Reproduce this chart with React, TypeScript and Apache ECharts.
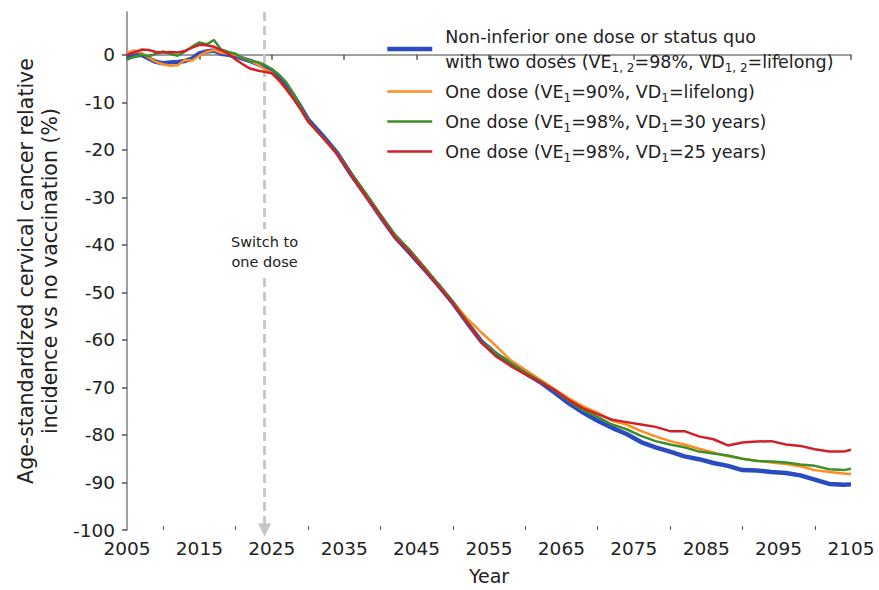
import React, { useEffect, useRef } from 'react';
import * as echarts from 'echarts';

const years = [
  2005, 2006, 2007, 2008, 2009, 2010, 2011, 2012, 2013, 2014, 2015, 2016, 2017, 2018, 2019,
  2020, 2021, 2022, 2023, 2024, 2025, 2026, 2027, 2028, 2029, 2030,
  2032, 2034, 2036, 2038, 2040, 2042, 2044, 2046, 2048, 2050, 2052, 2054, 2056, 2058,
  2060, 2062, 2064, 2066, 2068, 2070, 2072, 2074, 2076, 2078, 2080, 2082, 2084, 2086,
  2088, 2090, 2092, 2094, 2096, 2098, 2100, 2102, 2104, 2105,
];

const twoDoses = [
  -0.6, -0.2, 0.0, -0.8, -1.5, -1.8, -1.6, -1.5, -1.3, -0.8, 0.3, 0.7, 0.9, 0.2, 0.0,
  -0.3, -0.8, -1.3, -1.9, -2.6, -3.3, -4.8, -6.4, -8.6, -11.0, -13.6,
  -17.0, -20.6, -25.3, -29.6, -34.0, -38.3, -41.6, -45.0, -48.5, -52.2, -56.4, -60.4, -63.0, -65.0,
  -67.0, -68.8, -71.0, -73.3, -75.3, -77.0, -78.5, -79.8, -81.5, -82.6, -83.5, -84.5, -85.1, -85.9,
  -86.5, -87.4, -87.5, -87.8, -88.0, -88.5, -89.4, -90.3, -90.5, -90.4,
];

const oneDose90Lifelong = [
  0.4, 0.9, 0.4, -0.6, -1.5, -2.0, -2.3, -2.2, -1.1, -1.2, -0.2, 0.6, 1.0, 0.4, 0.2,
  0.0, -0.7, -1.3, -2.0, -3.0, -3.8, -5.5, -7.3, -9.2, -11.4, -14.0,
  -17.3, -20.8, -25.2, -29.8, -34.0, -38.2, -41.0, -44.5, -48.3, -52.0, -55.5, -58.5, -61.3, -64.3,
  -66.3, -68.3, -70.3, -72.3, -74.0, -75.3, -77.0, -77.8, -79.2, -80.3, -81.3, -82.0, -82.9, -83.7,
  -84.5, -85.0, -85.4, -85.8, -86.1, -86.6, -87.4, -87.8, -88.1, -88.2,
];

const oneDose98Vd30 = [
  -1.0, -0.4, 0.0, -0.3, 0.2, 0.7, 0.2, -0.2, 0.7, 1.7, 2.6, 2.2, 3.1, 1.1, 0.6,
  0.2, -0.8, -1.4, -1.5, -2.1, -3.0, -4.2, -5.8, -8.2, -11.0, -13.8,
  -17.4, -20.6, -25.0, -29.2, -33.6, -37.8, -41.0, -44.6, -48.3, -52.0, -56.2, -60.4, -62.8, -64.8,
  -66.8, -68.6, -70.5, -72.8, -74.8, -76.2, -77.8, -78.8, -80.2, -81.3, -82.0, -82.6, -83.5, -83.9,
  -84.3, -85.0, -85.5, -85.6, -85.8, -86.2, -86.5, -87.2, -87.4, -87.1,
];

const oneDose98Vd25 = [
  0.0, 0.5, 1.1, 1.0, 0.6, 0.5, 0.6, 0.5, 0.8, 1.5, 2.1, 2.0, 1.7, 1.0, 0.2,
  -1.0, -2.0, -2.9, -3.3, -3.6, -3.9, -5.3, -7.2, -9.3, -11.5, -14.0,
  -17.3, -20.8, -25.3, -29.8, -34.0, -38.4, -41.5, -45.0, -48.6, -52.3, -56.4, -60.6, -63.5, -65.5,
  -67.2, -68.8, -70.5, -72.6, -74.4, -75.6, -76.8, -77.3, -77.8, -78.3, -79.2, -79.2, -80.3, -80.9,
  -82.2, -81.6, -81.4, -81.3, -82.0, -82.3, -83.0, -83.5, -83.5, -83.1,
];

const yTicks = [-100, -90, -80, -70, -60, -50, -40, -30, -20, -10, 0];
const xTicks = [2005, 2015, 2025, 2035, 2045, 2055, 2065, 2075, 2085, 2095, 2105];
const xMinorTicks = [2010, 2020, 2030, 2040, 2050, 2060, 2070, 2080, 2090, 2100];
const switchYear = 2024;
const switchLabelLevel = -41.5;

const seriesNames = [
  'Non-inferior one dose or status quo\nwith two doses (VE{sub|1, 2}=98%, VD{sub|1, 2}=lifelong)',
  'One dose (VE{sub|1}=90%, VD{sub|1}=lifelong)',
  'One dose (VE{sub|1}=98%, VD{sub|1}=30 years)',
  'One dose (VE{sub|1}=98%, VD{sub|1}=25 years)',
];
const seriesValues = [twoDoses, oneDose90Lifelong, oneDose98Vd30, oneDose98Vd25];
const seriesColors = ['#2B4BC0', '#FF8C1E', '#3E8E2A', '#CF2128'];
const seriesWidths = [4.5, 2.5, 2.5, 2.5];

const FONT = '"DejaVu Sans", Verdana, sans-serif';

export default function App() {
  const ref = useRef<HTMLDivElement>(null);

  useEffect(() => {
    document.body.style.margin = '0';
    if (!ref.current) return;
    const chart = echarts.init(ref.current, null, { renderer: 'svg' });

    const series: any[] = seriesNames.map((name, k) => ({
      name,
      type: 'line',
      xAxisIndex: 0,
      yAxisIndex: 0,
      symbol: 'none',
      data: years.map((yr, i) => [yr, seriesValues[k][i]]),
      lineStyle: { color: seriesColors[k], width: seriesWidths[k] },
      itemStyle: { color: seriesColors[k] },
      z: 3 + k,
    }));

    series[0].markLine = {
      silent: true,
      symbol: ['none', 'triangle'],
      symbolSize: [13, 13],
      label: { show: false },
      lineStyle: { color: '#C6C6C6', type: [9, 5], width: 2.8 },
      data: [[{ coord: [switchYear, 9] }, { coord: [switchYear, -100] }]],
      z: 1,
    };
    series[0].markPoint = {
      silent: true,
      symbol: 'rect',
      symbolSize: 1,
      itemStyle: { color: 'rgba(0,0,0,0)' },
      label: {
        show: true,
        position: 'inside',
        formatter: 'Switch to\none dose',
        color: '#222',
        fontSize: 14.5,
        lineHeight: 20,
        fontFamily: FONT,
        backgroundColor: '#fff',
        padding: [3, 2],
      },
      data: [{ coord: [switchYear, switchLabelLevel] }],
      z: 2,
    };

    chart.setOption({
      animation: false,
      textStyle: { fontFamily: FONT },
      grid: { left: 127, right: 28, top: 12, bottom: 59, containLabel: false },
      legend: {
        orient: 'vertical',
        left: 380,
        top: 19,
        itemWidth: 45,
        itemHeight: 12,
        itemGap: 5,
        selectedMode: false,
        itemStyle: { color: 'rgba(0,0,0,0)', borderWidth: 0, opacity: 0 },
        textStyle: {
          fontSize: 17.5,
          color: '#222',
          lineHeight: 25,
          fontFamily: FONT,
          padding: [0, 0, 0, 8],
          rich: {
            sub: { fontSize: 12, lineHeight: 16, verticalAlign: 'bottom', fontFamily: FONT, color: '#222' },
          },
        },
        data: seriesNames.map((name, k) => ({
          name,
          lineStyle: { color: seriesColors[k], width: seriesWidths[k] },
        })),
      },
      xAxis: [
        {
          type: 'value',
          min: 2005,
          max: 2105,
          name: 'Year',
          nameLocation: 'middle',
          nameGap: 36,
          nameTextStyle: { fontSize: 19, color: '#222', fontFamily: FONT },
          axisLine: { show: true, lineStyle: { color: '#7F7F7F', width: 1.5 } },
          axisTick: { show: true, length: 5, customValues: xTicks, lineStyle: { color: '#555', width: 1.5 } },
          axisLabel: {
            customValues: xTicks,
            formatter: (v: number) => String(v),
            fontSize: 18.5,
            color: '#222',
            margin: 9,
            fontFamily: FONT,
          },
          splitLine: { show: false },
        },
        {
          type: 'value',
          min: 2005,
          max: 2105,
          position: 'bottom',
          axisLine: { show: false },
          axisTick: { show: true, inside: true, length: 4, customValues: xMinorTicks, lineStyle: { color: '#555', width: 1 } },
          axisLabel: { show: false },
          splitLine: { show: false },
        },
      ],
      yAxis: {
        type: 'value',
        min: -100,
        max: 9,
        name: 'Age-standardized cervical cancer relative\nincidence vs no vaccination (%)',
        nameLocation: 'middle',
        nameGap: 64,
        nameTextStyle: { fontSize: 20.5, color: '#222', lineHeight: 24, fontFamily: FONT },
        axisLine: { show: true, lineStyle: { color: '#7F7F7F', width: 1.5 } },
        axisTick: { show: true, length: 5, customValues: yTicks, lineStyle: { color: '#555', width: 1.5 } },
        axisLabel: { customValues: yTicks, fontSize: 18.5, color: '#222', margin: 12, fontFamily: FONT },
        splitLine: { show: false },
      },
      series,
    });

    return () => chart.dispose();
  }, []);

  return <div ref={ref} style={{ width: 879, height: 590 }} />;
}
